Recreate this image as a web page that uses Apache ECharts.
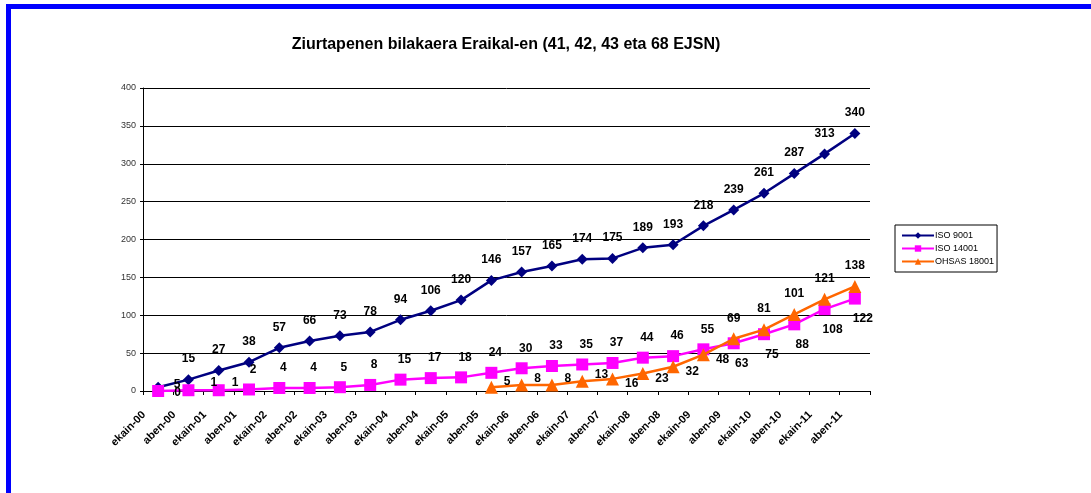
<!DOCTYPE html>
<html>
<head>
<meta charset="utf-8">
<script src="https://cdn.jsdelivr.net/npm/echarts@6/dist/echarts.min.js"></script>
<style>
    html, body { margin: 0; padding: 0; background: #fff; }
    #chart { width: 1091px; height: 493px; position: relative; }
    /* marco azul de la imagen original */
    #frame { position: absolute; left: 6px; top: 4px; width: 1085px; height: 489px;
             border-left: 5px solid #0000ff; border-top: 5px solid #0000ff; box-sizing: border-box; pointer-events: none; }
</style>
</head>
<body>
<div id="chart"></div>
<div id="frame"></div>
<script>
// categorías (semestres)
let categories = ['ekain-00', 'aben-00', 'ekain-01', 'aben-01', 'ekain-02', 'aben-02', 'ekain-03', 'aben-03',
    'ekain-04', 'aben-04', 'ekain-05', 'aben-05', 'ekain-06', 'aben-06', 'ekain-07', 'aben-07',
    'ekain-08', 'aben-08', 'ekain-09', 'aben-09', 'ekain-10', 'aben-10', 'ekain-11', 'aben-11'];
// ISO 9001
let iso9001 = [5, 15, 27, 38, 57, 66, 73, 78, 94, 106, 120, 146, 157, 165, 174, 175, 189, 193, 218, 239, 261, 287, 313, 340];
// ISO 14001
let iso14001 = [0, 1, 1, 2, 4, 4, 5, 8, 15, 17, 18, 24, 30, 33, 35, 37, 44, 46, 55, 63, 75, 88, 108, 122];
// OHSAS 18001 (empieza en ekain-06)
let ohsas18001 = [null, null, null, null, null, null, null, null, null, null, null, 5, 8, 8, 13, 16, 23, 32, 48, 69, 81, 101, 121, 138];
// marcas del eje Y
let yMin = 0, yMax = 400, yStep = 50;

let labelFont = { fontFamily: 'Liberation Sans, Arial', fontWeight: 'bold', fontSize: 12, color: '#000' };

// etiquetas de ISO 9001: arriba (la primera a la derecha)
function blueData() {
    return iso9001.map(function (v, i) {
        if (i === 0) {
            return { value: v, label: { position: 'right', distance: 10, offset: [0, -3] } };
        }
        return v;
    });
}
// etiquetas de ISO 14001: arriba al principio, abajo al final
function pinkData() {
    return iso14001.map(function (v, i) {
        if (i === 0) {
            return { value: v, label: { position: 'right', distance: 10, offset: [0, 2] } };
        }
        if (i <= 2) {
            return { value: v, label: { position: 'right', distance: i === 1 ? 16 : 7, offset: [0, -8] } };
        }
        if (i >= 19) {
            return { value: v, label: { position: 'bottom', distance: 8, offset: [8, 0] } };
        }
        return { value: v, label: { position: 'top', distance: 8, offset: [4, 0] } };
    });
}
// etiquetas de OHSAS: a la derecha al principio, arriba al final
function orangeData() {
    return ohsas18001.map(function (v, i) {
        if (v === null) return v;
        if (i >= 19) {
            return { value: v, label: { position: 'top', distance: 8 } };
        }
        return { value: v, label: { position: 'right', distance: 6, offset: [0, i < 15 ? -6 : 5] } };
    });
}

let myChart = echarts.init(document.getElementById('chart'));
let option = {
    animation: false,
    backgroundColor: '#fff',
    title: {
        text: 'Ziurtapenen bilakaera Eraikal-en (41, 42, 43 eta 68 EJSN)',
        left: 501,
        textAlign: 'center',
        top: 32,
        textStyle: { fontFamily: 'Liberation Sans, Arial', fontWeight: 'bold', fontSize: 16, color: '#000' }
    },
    legend: {
        orient: 'vertical',
        left: 895,
        top: 225,
        padding: [6, 3, 6, 6],
        itemGap: 4,
        itemWidth: 32,
        itemHeight: 8,
        borderColor: '#000',
        borderWidth: 1,
        borderRadius: 0,
        textStyle: { fontFamily: 'Liberation Sans, Arial', fontSize: 9, color: '#000', padding: [0, 0, 0, -4] },
        data: ['ISO 9001', 'ISO 14001', 'OHSAS 18001']
    },
    grid: {
        left: 143,
        right: 221,
        top: 88,
        bottom: 102,
        containLabel: false
    },
    xAxis: {
        type: 'category',
        boundaryGap: true,
        data: categories,
        axisLine: { lineStyle: { color: '#000', width: 1 } },
        axisTick: { show: true, alignWithLabel: false, length: 4, lineStyle: { color: '#000' } },
        axisLabel: {
            interval: 0,
            rotate: 45,
            margin: 8,
            padding: [0, 20, 0, 0],
            fontFamily: 'Liberation Sans, Arial',
            fontWeight: 'bold',
            fontSize: 11,
            color: '#000'
        }
    },
    yAxis: {
        type: 'value',
        min: yMin,
        max: yMax,
        interval: yStep,
        axisLine: { show: true, lineStyle: { color: '#000', width: 1 } },
        axisTick: { show: true, length: 3, lineStyle: { color: '#000' } },
        axisLabel: { fontFamily: 'Liberation Sans, Arial', fontSize: 9, color: '#333', margin: 7 },
        splitLine: { lineStyle: { color: '#000', width: 1 } }
    },
    series: [
        {
            name: 'ISO 9001',
            type: 'line',
            data: blueData(),
            symbol: 'diamond',
            symbolSize: 11,
            color: '#000080',
            lineStyle: { width: 2.5, color: '#000080' },
            label: Object.assign({ show: true, position: 'top', distance: 9 }, labelFont),
            z: 3
        },
        {
            name: 'ISO 14001',
            type: 'line',
            data: pinkData(),
            symbol: 'rect',
            symbolSize: 12,
            color: '#ff00ff',
            lineStyle: { width: 2.5, color: '#ff00ff' },
            label: Object.assign({ show: true }, labelFont),
            z: 4
        },
        {
            name: 'OHSAS 18001',
            type: 'line',
            data: orangeData(),
            symbol: 'triangle',
            symbolSize: 13,
            color: '#ff6600',
            lineStyle: { width: 2.5, color: '#ff6600' },
            label: Object.assign({ show: true }, labelFont),
            z: 5
        }
    ]
};
myChart.setOption(option);
</script>
</body>
</html>
